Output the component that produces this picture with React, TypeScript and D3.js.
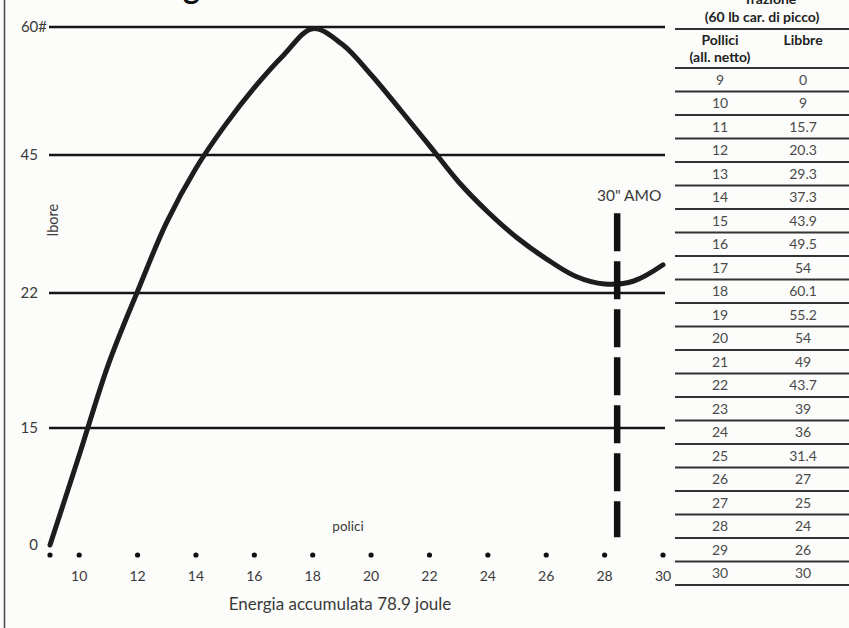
import React from "react";
import * as d3 from "d3";

// tabella "Trazione"
const tableInches = [9, 10, 11, 12, 13, 14, 15, 16, 17, 18, 19, 20, 21, 22, 23, 24, 25, 26, 27, 28, 29, 30];
const tableLbs = ["0", "9", "15.7", "20.3", "29.3", "37.3", "43.9", "49.5", "54", "60.1", "55.2", "54", "49", "43.7", "39", "36", "31.4", "27", "25", "24", "26", "30"];

// curva come disegnata
const curveInches = [9, 10, 11, 12, 13, 14, 15, 16, 17, 18, 19, 20, 21, 22, 23, 24, 25, 26, 27, 28, 29, 30];
const curveLbs = [0, 11.5, 18.3, 22.3, 33.8, 42.8, 48.5, 52.9, 56.7, 59.8, 58.0, 54.4, 50.3, 46.1, 40.5, 35.5, 31.2, 27.7, 24.8, 23.5, 24.0, 26.7];

const yTicks = [0, 15, 22, 45, 60];
const yLabels = ["0", "15", "22", "45", "60#"];
const xDots = [9, 10, 12, 14, 16, 18, 20, 22, 24, 26, 28, 30];
const xLabels = [10, 12, 14, 16, 18, 20, 22, 24, 26, 28, 30];

const amoX = 28.43;
const amoRange = [1, 35.3];

const W = 849;
const H = 628;
const font = "Lato, 'Open Sans', sans-serif";
const ink = "#3a3a3a";

export default function App() {
  const x = d3.scaleLinear().domain([9, 30]).range([50, 663]);
  // le linee orizzontali non sono equidistanti nel disegno originale
  const y = d3.scaleLinear().domain(yTicks).range([545, 428, 293, 155, 27]);

  const line = d3
    .line<number>()
    .x((_, i) => x(curveInches[i]))
    .y((d) => y(d))
    .curve(d3.curveCatmullRom.alpha(0.5));

  const tableX0 = 675;
  const rowTop = 68;
  const rowH = 23.5;
  const colIn = 720;
  const colLb = 803;

  return (
    <svg width={W} height={H} style={{ position: "absolute", left: 0, top: 0, background: "#fcfcfb" }}>
      {/* bordo sinistro */}
      <line x1={4.5} x2={4.5} y1={0} y2={H} stroke="#444" strokeWidth={1.5} />

      {/* titolo tagliato in alto */}
      <text x={183} y={-1} fontFamily={font} fontWeight="bold" fontSize={32} fill="#111">
        grafico di trazione
      </text>

      {/* linee orizzontali */}
      {yTicks.slice(1).map((t) => (
        <line key={t} x1={49} x2={665} y1={y(t)} y2={y(t)} stroke="#151515" strokeWidth={2.4} />
      ))}

      {/* etichette asse y */}
      {yTicks.map((t, i) => (
        <text
          key={t}
          x={yLabels[i].endsWith("#") ? 47 : 38}
          y={y(t)}
          dy="0.36em"
          textAnchor="end"
          fontFamily={font}
          fontSize={15}
          fill={ink}
        >
          {yLabels[i]}
        </text>
      ))}

      <text
        transform={`translate(58, 220) rotate(-90)`}
        textAnchor="middle"
        fontFamily={font}
        fontSize={14.5}
        fill={ink}
      >
        lbore
      </text>

      {/* curva */}
      <path d={line(curveLbs) ?? ""} fill="none" stroke="#1d1d1d" strokeWidth={5} strokeLinecap="round" strokeLinejoin="round" />

      {/* 30" AMO */}
      <line
        x1={x(amoX)}
        x2={x(amoX)}
        y1={y(amoRange[1])}
        y2={y(amoRange[0])}
        stroke="#111"
        strokeWidth={6.5}
        strokeDasharray="38 10"
      />
      <text x={x(amoX) + 12} y={201} textAnchor="middle" fontFamily={font} fontSize={15.5} fill={ink}>
        30" AMO
      </text>

      {/* asse x: punti ed etichette */}
      {xDots.map((d) => (
        <circle key={d} cx={x(d)} cy={y(0) + 10} r={2.6} fill="#111" />
      ))}
      {xLabels.map((d) => (
        <text key={d} x={x(d)} y={y(0) + 36} textAnchor="middle" fontFamily={font} fontSize={14} fill={ink}>
          {d}
        </text>
      ))}
      <text x={348} y={y(0) - 14} textAnchor="middle" fontFamily={font} fontSize={13.5} fill={ink}>
        polici
      </text>
      <text x={340} y={y(0) + 65} textAnchor="middle" fontFamily={font} fontSize={17} fill={ink}>
        Energia accumulata 78.9 joule
      </text>

      {/* tabella */}
      <text x={770} y={4} textAnchor="middle" fontFamily={font} fontWeight="bold" fontSize={14} fill="#222">
        Trazione
      </text>
      <text x={762} y={22} textAnchor="middle" fontFamily={font} fontWeight="bold" fontSize={14} fill="#222">
        (60 lb car. di picco)
      </text>
      <line x1={tableX0} x2={W} y1={29} y2={29} stroke="#333" strokeWidth={2} />
      <text x={colIn} y={45} textAnchor="middle" fontFamily={font} fontWeight="bold" fontSize={14} fill="#222">
        Pollici
      </text>
      <text x={colLb} y={45} textAnchor="middle" fontFamily={font} fontWeight="bold" fontSize={14} fill="#222">
        Libbre
      </text>
      <text x={colIn} y={62} textAnchor="middle" fontFamily={font} fontWeight="bold" fontSize={14} fill="#222">
        (all. netto)
      </text>
      {d3.range(tableInches.length + 1).map((i) => (
        <line key={i} x1={tableX0} x2={W} y1={rowTop + i * rowH} y2={rowTop + i * rowH} stroke="#333" strokeWidth={2} />
      ))}
      {tableInches.map((d, i) => (
        <g key={d} fontFamily={font} fontSize={14} fill="#4a4a4a" textAnchor="middle">
          <text x={colIn} y={rowTop + (i + 0.5) * rowH} dy="0.36em">
            {d}
          </text>
          <text x={colLb} y={rowTop + (i + 0.5) * rowH} dy="0.36em">
            {tableLbs[i]}
          </text>
        </g>
      ))}
    </svg>
  );
}
